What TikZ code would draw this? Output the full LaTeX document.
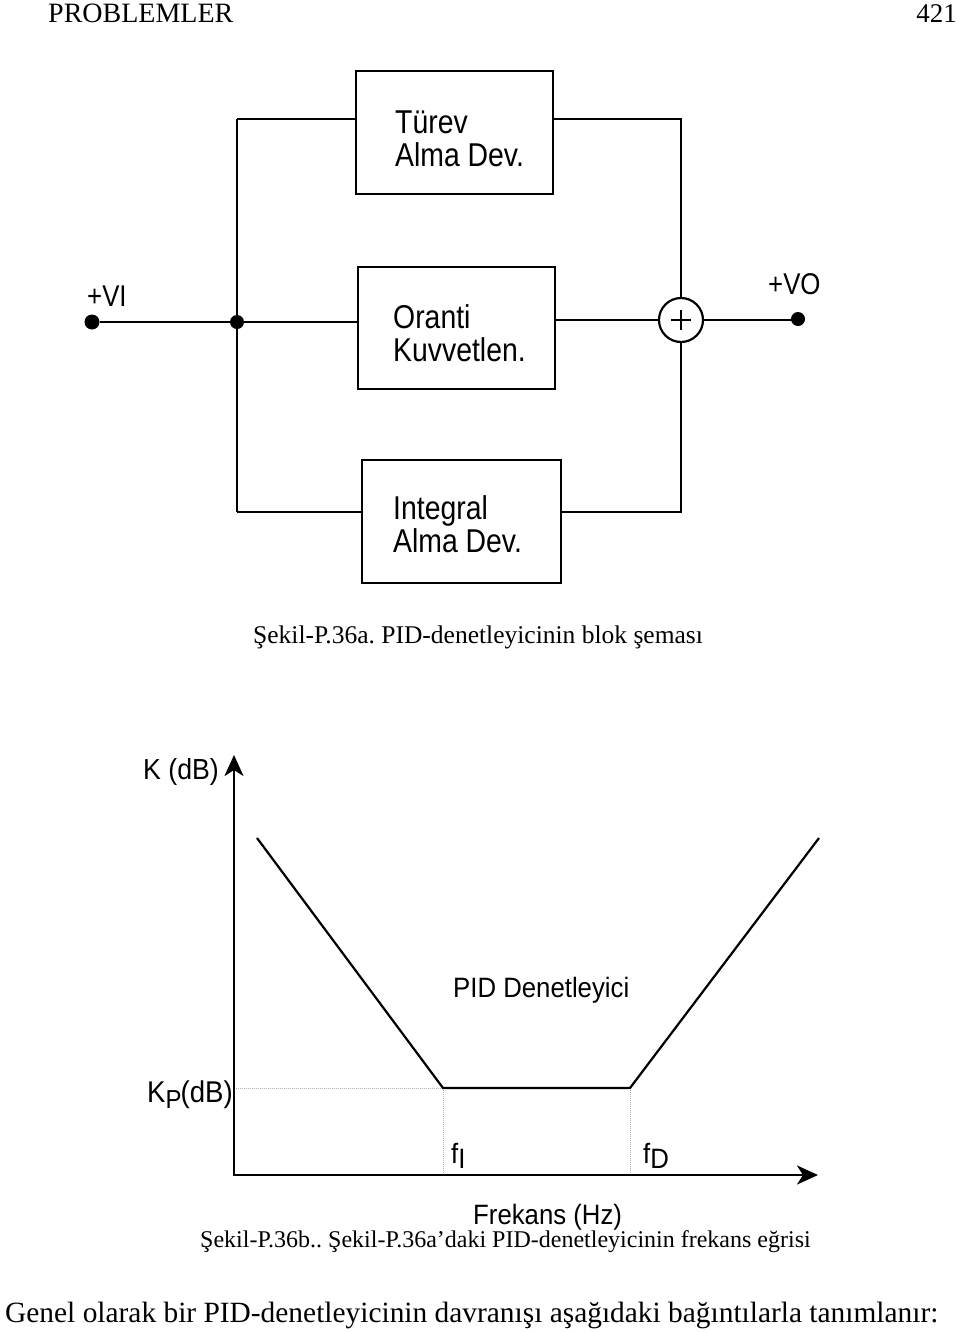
\documentclass[tikz,border=0pt]{standalone}
\usepackage{fontspec}
\setmainfont{Liberation Serif}
\newfontfamily\blockfont[FakeStretch=0.86]{Liberation Sans}
\newfontfamily\chartfont[FakeStretch=0.92]{Liberation Sans}
\usetikzlibrary{arrows.meta}
\frenchspacing
\begin{document}
\begin{tikzpicture}[x=1pt,y=-1pt,
  blockbox/.style={draw,line width=2.6pt,rectangle,inner sep=0pt},
  wire/.style={line width=2.2pt},
  txt/.style={inner sep=0pt,anchor=base west},
  btxt/.style={txt,font=\blockfont\fontsize{33}{33}\selectfont},
  ctxt/.style={txt,font=\chartfont\fontsize{28}{28}\selectfont},
  serif/.style={txt},
  dotn/.style={circle,fill=black,inner sep=0pt,minimum size=15pt},
  axis/.style={line width=2.6pt,-{Stealth[length=21pt,width=19pt,inset=6pt]}},
  curve/.style={line width=2.2pt},
  guide/.style={line width=1pt,gray!60,densely dotted}]
\useasboundingbox (0,0) rectangle (960,1333);

% header
\node[serif,font=\fontsize{28}{28}\selectfont] (hdr) at (48,23) {PROBLEMLER};
\node[txt,anchor=base east,font=\fontsize{27}{27}\selectfont] (pg) at (957,23) {421};

% blocks
\node[blockbox,minimum width=197pt,minimum height=123pt] (turev) at (454.5,132.5) {};
\node[blockbox,minimum width=197pt,minimum height=122pt] (oranti) at (456.5,328) {};
\node[blockbox,minimum width=199pt,minimum height=123pt] (integ) at (461.5,521.5) {};

\node[btxt] (t1) at (395,133) {Türev};
\node[btxt] (t2) at (395,166) {Alma Dev.};
\node[btxt] (o1) at (393,328) {Oranti};
\node[btxt] (o2) at (393,361) {Kuvvetlen.};
\node[btxt] (i1) at (393,519) {Integral};
\node[btxt] (i2) at (393,552) {Alma Dev.};

% input / output
\node[dotn] (vin) at (92,322) {};
\node[dotn,minimum size=14pt] (jn) at (237,322) {};
\node[dotn,minimum size=14pt] (vout) at (798,319) {};
\node[circle,draw,line width=2.2pt,minimum size=44pt,inner sep=0pt] (sum) at (681,320) {};
\draw[line width=2.4pt] ([xshift=-10pt]sum.center) -- ([xshift=10pt]sum.center)
      ([yshift=-10pt]sum.center) -- ([yshift=10pt]sum.center);
\node[txt,font=\blockfont\fontsize{30}{30}\selectfont] (vil) at (87,306) {+VI};
\node[txt,font=\blockfont\fontsize{30}{30}\selectfont] (vol) at (768,294) {+VO};

\coordinate (jt) at (237,119);
\coordinate (jb) at (237,512);
\coordinate (rt) at (681,119);
\coordinate (rb) at (681,512);

\draw[wire] (vin) -- (jn) -- (oranti.west |- jn);
\draw[wire] (jt) -- (jb);
\draw[wire] (jt) -- (turev.west |- jt);
\draw[wire] (jb) -- (integ.west |- jb);
\draw[wire] (turev.east |- rt) -- (rt) -- (sum.north);
\draw[wire] (integ.east |- rb) -- (rb) -- (sum.south);
\draw[wire] (oranti.east |- sum.west) -- (sum.west);
\draw[wire] (sum.east) -- (vout.center |- sum.east) -- (vout);

\node[serif,font=\fontsize{25.5}{25.5}\selectfont] (capa) at (253,643) {Şekil-P.36a. PID-denetleyicinin blok şeması};

% chart
\coordinate (O) at (234,1175);
\coordinate (ytop) at (234,755);
\coordinate (xend) at (818,1175);
\coordinate (A) at (257,838);
\coordinate (B) at (443,1088);
\coordinate (C) at (630,1088);
\coordinate (D) at (819,838);
\coordinate (kp) at (234,1088);
\coordinate (fi) at (443,1175);
\coordinate (fd) at (630,1175);

\draw[guide] (kp) -- (B);
\draw[guide] (B) -- (fi);
\draw[guide] (C) -- (fd);
\draw[axis] ([yshift=1.3pt]O) -- (ytop);
\draw[axis] ([xshift=-1.3pt]O) -- (xend);
\draw[curve,line join=miter] (A) -- (B) -- (C) -- (D);

\node[txt,font=\chartfont\fontsize{29}{29}\selectfont] (ky) at (143,779) {K (dB)};
\node[ctxt] (pid) at (453,997) {PID Denetleyici};
\node[txt,font=\chartfont\fontsize{30}{30}\selectfont] (kpl) at (147,1102) {K\raisebox{-6pt}{\fontsize{26}{26}\selectfont P}\kern-1pt(dB)};
\node[ctxt] (fil) at (451,1163) {f\raisebox{-5pt}{I}};
\node[ctxt] (fdl) at (643,1163) {f\raisebox{-5pt}{D}};
\node[ctxt] (frek) at (473,1224) {Frekans (Hz)};

\node[serif,font=\fontsize{24}{24}\selectfont] (capb) at (200,1247) {Şekil-P.36b.. Şekil-P.36a’daki PID-denetleyicinin frekans eğrisi};
\node[serif,font=\fontsize{29.4}{29.4}\selectfont] (last) at (5,1322) {Genel olarak bir PID-denetleyicinin davranışı aşağıdaki bağıntılarla tanımlanır:};
\end{tikzpicture}
\end{document}
